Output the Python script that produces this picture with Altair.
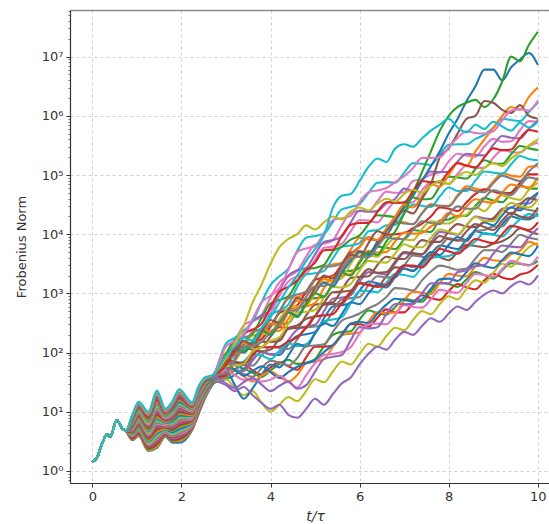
import altair as alt
import pandas as pd

# ---- shared start (all runs coincide), log10 of the norm ----
t_common = [0.0, 0.1, 0.25, 0.33, 0.4, 0.55, 0.67, 0.75]
log_common = [0.15, 0.22, 0.52, 0.62, 0.58, 0.86, 0.72, 0.68]

# ---- oscillating bundle, one column per time, one entry per run (log10) ----
t_bundle = [0.9, 1.04, 1.26, 1.45, 1.64, 1.8, 1.95, 2.24, 2.38, 2.53, 2.7]
b090 = [0.52,0.53,0.54,0.55,0.56,0.57,0.59,0.60,0.61,0.62,0.63,0.64,0.65,0.66,0.67,0.69,0.70,0.71,0.72,0.73,0.74,0.75,0.76,0.77,0.78,0.80,0.81,0.82,0.83,0.84,0.85,0.86,0.87,0.88,0.89,0.91,0.92,0.93,0.94,0.95]
b104 = [0.59,0.60,0.62,0.63,0.65,0.66,0.68,0.69,0.71,0.72,0.74,0.75,0.77,0.78,0.80,0.81,0.83,0.84,0.86,0.87,0.89,0.90,0.92,0.93,0.95,0.96,0.98,0.99,1.01,1.02,1.04,1.05,1.07,1.08,1.10,1.11,1.13,1.14,1.16,1.17]
b126 = [0.34,0.35,0.37,0.39,0.41,0.42,0.44,0.46,0.47,0.49,0.51,0.52,0.54,0.56,0.58,0.59,0.61,0.63,0.64,0.66,0.68,0.69,0.71,0.73,0.75,0.76,0.78,0.80,0.81,0.83,0.85,0.86,0.88,0.90,0.92,0.93,0.95,0.97,0.98,1.00]
b145 = [0.39,0.41,0.44,0.46,0.49,0.51,0.54,0.56,0.59,0.61,0.64,0.66,0.69,0.71,0.74,0.76,0.79,0.81,0.84,0.86,0.89,0.91,0.94,0.96,0.99,1.01,1.04,1.06,1.09,1.11,1.14,1.16,1.19,1.21,1.24,1.26,1.29,1.31,1.34,1.36]
b164 = [0.58,0.59,0.61,0.62,0.63,0.64,0.65,0.67,0.68,0.69,0.70,0.71,0.73,0.74,0.75,0.76,0.77,0.79,0.80,0.81,0.82,0.83,0.85,0.86,0.87,0.88,0.89,0.91,0.92,0.93,0.94,0.95,0.97,0.98,0.99,1.00,1.01,1.03,1.04,1.05]
b180 = [0.48,0.50,0.51,0.53,0.55,0.57,0.59,0.60,0.62,0.64,0.66,0.68,0.69,0.71,0.73,0.75,0.77,0.78,0.80,0.82,0.84,0.86,0.87,0.89,0.91,0.93,0.95,0.96,0.98,1.00,1.02,1.04,1.05,1.07,1.09,1.11,1.13,1.14,1.16,1.18]
b195 = [0.48,0.51,0.53,0.55,0.58,0.60,0.62,0.64,0.67,0.69,0.71,0.74,0.76,0.78,0.81,0.83,0.85,0.87,0.90,0.92,0.94,0.97,0.99,1.01,1.04,1.06,1.08,1.10,1.13,1.15,1.17,1.20,1.22,1.24,1.27,1.29,1.31,1.33,1.36,1.38]
b224 = [0.69,0.70,0.72,0.73,0.74,0.75,0.76,0.78,0.79,0.80,0.81,0.82,0.84,0.85,0.86,0.87,0.88,0.90,0.91,0.92,0.93,0.94,0.96,0.97,0.98,0.99,1.00,1.02,1.03,1.04,1.05,1.06,1.08,1.09,1.10,1.11,1.12,1.14,1.15,1.16]
b238 = [0.95,0.96,0.98,0.99,1.00,1.01,1.02,1.04,1.05,1.06,1.07,1.08,1.10,1.11,1.12,1.13,1.14,1.16,1.17,1.18,1.19,1.20,1.22,1.23,1.24,1.25,1.26,1.28,1.29,1.30,1.31,1.32,1.34,1.35,1.36,1.37,1.38,1.40,1.41,1.42]
b253 = [1.23,1.24,1.25,1.26,1.27,1.27,1.28,1.29,1.30,1.31,1.32,1.33,1.34,1.35,1.36,1.36,1.37,1.38,1.39,1.40,1.41,1.42,1.43,1.44,1.45,1.45,1.46,1.47,1.48,1.49,1.50,1.51,1.52,1.53,1.54,1.54,1.55,1.56,1.57,1.58]
b270 = [1.46,1.47,1.47,1.48,1.48,1.48,1.49,1.49,1.50,1.50,1.50,1.51,1.51,1.52,1.52,1.52,1.53,1.53,1.54,1.54,1.54,1.55,1.55,1.56,1.56,1.56,1.57,1.57,1.58,1.58,1.58,1.59,1.59,1.60,1.60,1.60,1.61,1.61,1.62,1.62]
bundle_cols = [b090, b104, b126, b145, b164, b180, b195, b224, b238, b253, b270]

# ---- diverging runs, log10 of the norm at each time ----
t_walk = [3.0, 3.2, 3.4, 3.6, 3.8, 4.0, 4.2, 4.4, 4.6, 4.8, 5.0, 5.2, 5.4, 5.6, 5.8, 6.0, 6.2, 6.4,
          6.6, 6.8, 7.0, 7.2, 7.4, 7.6, 7.8, 8.0, 8.2, 8.4, 8.6, 8.8, 9.0, 9.2, 9.4, 9.6, 9.8, 10.0]
w00 = [1.65,1.79,1.73,1.89,2.01,1.97,1.96,2.14,2.28,2.31,2.35,2.58,2.78,2.80,2.84,3.05,3.20,3.17,3.15,3.32,3.48,3.45,3.47,3.66,3.81,3.78,3.75,3.91,4.05,4.01,4.00,4.17,4.30,4.26,4.25,4.35]
w01 = [1.80,1.88,2.13,2.34,2.39,2.44,2.69,2.91,2.94,3.00,3.24,3.45,3.49,3.52,3.74,3.94,3.91,3.90,4.08,4.22,4.20,4.17,4.36,4.51,4.48,4.48,4.66,4.81,4.77,4.74,4.89,5.03,4.99,4.97,5.14,5.15]
w02 = [1.55,1.62,1.72,1.66,1.59,1.70,1.81,1.88,1.81,1.83,1.89,2.11,2.30,2.35,2.36,2.56,2.71,2.67,2.64,2.77,2.91,2.88,2.86,3.03,3.18,3.16,3.11,3.24,3.36,3.31,3.25,3.39,3.51,3.50,3.48,3.55]
w03 = [1.61,1.72,1.79,1.70,1.63,1.75,1.84,1.77,1.71,1.92,2.10,2.10,2.12,2.31,2.48,2.48,2.44,2.59,2.73,2.68,2.68,2.84,2.97,2.92,2.89,3.04,3.16,3.10,3.07,3.22,3.33,3.27,3.24,3.32,3.36,3.48]
w04 = [1.72,1.70,1.69,1.87,2.01,1.97,2.00,2.21,2.39,2.44,2.47,2.70,2.91,2.93,2.97,3.20,3.36,3.34,3.32,3.51,3.68,3.65,3.66,3.86,4.04,4.02,3.99,4.15,4.30,4.27,4.25,4.43,4.45,4.52,4.52,4.70]
w05 = [1.84,1.99,2.08,2.05,2.02,2.05,2.24,2.40,2.42,2.43,2.62,2.81,2.82,2.83,3.00,3.18,3.15,3.12,3.29,3.44,3.42,3.38,3.52,3.65,3.61,3.56,3.70,3.82,3.80,3.78,3.84,3.88,3.97,4.10,4.05,4.00]
w06 = [1.98,2.03,2.29,2.52,2.59,2.67,2.96,3.20,3.29,3.33,3.57,3.77,3.79,3.84,4.05,4.24,4.23,4.20,4.39,4.54,4.52,4.54,4.74,4.88,4.87,4.85,5.02,5.16,5.12,5.12,5.29,5.42,5.39,5.38,5.49,5.55]
w07 = [1.73,1.85,1.79,1.78,1.95,2.10,2.08,2.06,2.22,2.42,2.44,2.48,2.70,2.90,2.92,2.94,3.14,3.29,3.27,3.27,3.47,3.64,3.62,3.60,3.78,3.93,3.90,3.88,4.05,4.07,4.13,4.13,4.31,4.44,4.41,4.38]
w08 = [1.55,1.40,1.28,1.35,1.15,1.00,1.12,1.25,1.18,1.35,1.55,1.50,1.68,1.85,1.80,1.98,2.15,2.10,2.28,2.42,2.38,2.55,2.70,2.65,2.82,2.95,2.90,3.08,3.22,3.18,3.35,3.50,3.45,3.62,3.78,3.85]
w09 = [1.71,1.70,1.85,1.97,1.95,1.89,2.03,2.16,2.11,2.14,2.33,2.53,2.56,2.60,2.83,3.04,3.04,3.02,3.18,3.33,3.31,3.28,3.45,3.60,3.62,3.63,3.71,3.77,3.88,4.02,3.99,3.96,4.11,4.25,4.34,4.30]
w10 = [1.70,1.45,1.22,1.40,1.62,1.80,1.75,1.95,2.15,2.10,2.32,2.50,2.45,2.65,2.85,2.82,3.00,3.15,3.10,3.28,3.42,3.38,3.55,3.70,3.65,3.82,3.95,3.90,4.08,4.20,4.15,4.32,4.45,4.40,4.58,4.70]
w11 = [1.66,1.71,1.60,1.51,1.61,1.68,1.59,1.51,1.62,1.82,1.85,1.89,2.10,2.30,2.32,2.34,2.53,2.68,2.67,2.68,2.88,3.03,3.01,2.99,3.18,3.33,3.30,3.29,3.46,3.60,3.56,3.55,3.66,3.72,3.87,3.81]
w12 = [1.89,2.08,2.10,2.10,2.30,2.48,2.48,2.50,2.71,2.90,2.92,2.94,3.17,3.37,3.38,3.43,3.63,3.79,3.77,3.75,3.92,4.07,4.05,4.04,4.23,4.25,4.31,4.31,4.48,4.61,4.57,4.54,4.70,4.83,4.77,4.77]
w13 = [1.67,1.90,2.13,2.17,2.23,2.44,2.67,2.73,2.80,3.03,3.23,3.27,3.30,3.49,3.69,3.71,3.68,3.84,3.99,4.00,4.02,4.10,4.18,4.30,4.45,4.43,4.39,4.54,4.68,4.76,4.72,4.69,4.70,4.87,5.01,5.01]
w14 = [1.45,1.35,1.42,1.28,1.15,1.05,1.12,0.95,0.90,1.05,1.22,1.12,1.30,1.48,1.58,1.80,1.98,2.10,2.05,2.22,2.35,2.30,2.45,2.58,2.52,2.66,2.78,2.72,2.86,2.98,3.05,3.00,3.12,3.20,3.15,3.30]
w15 = [1.79,1.97,2.12,2.10,2.09,2.27,2.43,2.42,2.42,2.63,2.81,2.83,2.85,3.06,3.26,3.28,3.29,3.48,3.62,3.59,3.58,3.74,3.90,3.87,3.87,4.05,4.17,4.13,4.12,4.21,4.27,4.41,4.34,4.50,4.61,4.57]
w16 = [1.91,2.20,2.46,2.54,2.64,2.93,3.19,3.29,3.38,3.62,3.82,3.84,3.90,4.15,4.36,4.39,4.39,4.56,4.72,4.70,4.71,4.90,4.93,5.01,5.04,5.23,5.36,5.33,5.31,5.48,5.61,5.56,5.57,5.76,5.91,5.90]
w17 = [1.58,1.69,1.64,1.59,1.74,1.86,1.83,1.78,1.91,2.11,2.12,2.14,2.35,2.54,2.60,2.66,2.75,2.82,2.94,3.09,3.08,3.05,3.22,3.37,3.47,3.44,3.40,3.42,3.59,3.73,3.73,3.70,3.84,3.99,3.94,3.91]
w18 = [1.83,1.87,2.09,2.29,2.31,2.34,2.56,2.75,2.78,2.79,3.01,3.20,3.21,3.26,3.50,3.68,3.65,3.62,3.80,3.94,3.91,3.90,4.09,4.22,4.19,4.18,4.28,4.33,4.46,4.39,4.55,4.66,4.61,4.58,4.75,4.87]
w19 = [1.75,1.99,2.05,2.12,2.40,2.64,2.71,2.81,3.11,3.32,3.34,3.38,3.59,3.79,3.81,3.85,4.05,4.07,4.15,4.16,4.36,4.50,4.48,4.46,4.64,4.79,4.73,4.73,4.91,5.06,5.04,5.02,5.18,5.32,5.27,5.25]
w20 = [1.79,1.71,1.61,1.69,1.77,1.67,1.57,1.67,1.76,1.82,1.87,2.01,2.13,2.29,2.49,2.52,2.50,2.66,2.81,2.91,2.89,2.86,2.90,3.08,3.24,3.25,3.21,3.36,3.51,3.46,3.43,3.56,3.69,3.66,3.63,3.80]
w21 = [1.99,1.99,2.01,2.19,2.36,2.36,2.37,2.57,2.76,2.78,2.84,3.09,3.28,3.30,3.33,3.55,3.72,3.69,3.70,3.88,4.03,4.01,4.02,4.13,4.21,4.36,4.30,4.47,4.59,4.55,4.53,4.70,4.84,4.81,4.79,4.96]
w22 = [1.98,2.21,2.25,2.32,2.59,2.83,2.89,2.95,3.20,3.41,3.43,3.48,3.71,3.79,3.91,3.98,4.17,4.32,4.31,4.29,4.48,4.62,4.59,4.60,4.81,4.97,4.96,4.94,5.10,5.25,5.20,5.19,5.35,5.49,5.45,5.42]
w23 = [1.88,1.84,1.80,1.95,2.09,2.09,2.10,2.19,2.26,2.42,2.61,2.63,2.65,2.84,3.03,3.17,3.14,3.11,3.14,3.31,3.47,3.47,3.44,3.59,3.75,3.71,3.67,3.79,3.92,3.88,3.85,4.00,4.14,4.11,4.07,4.20]
w24 = [1.92,2.00,2.28,2.54,2.62,2.73,3.04,3.30,3.39,3.43,3.66,3.87,3.90,3.96,4.20,4.40,4.38,4.39,4.52,4.60,4.77,4.73,4.92,5.06,5.05,5.05,5.23,5.36,5.34,5.33,5.51,5.66,5.63,5.62,5.78,5.92]
w25 = [1.84,1.83,1.83,2.01,2.18,2.18,2.20,2.41,2.46,2.57,2.62,2.84,3.02,3.03,3.05,3.26,3.41,3.35,3.36,3.54,3.70,3.68,3.66,3.82,3.97,3.92,3.89,4.05,4.17,4.12,4.07,4.23,4.36,4.30,4.28,4.45]
w26 = [1.70,1.62,1.54,1.54,1.51,1.54,1.61,1.51,1.41,1.62,1.82,1.96,1.98,2.01,2.09,2.32,2.48,2.49,2.48,2.64,2.80,2.77,2.76,2.90,3.06,3.03,3.01,3.18,3.33,3.31,3.28,3.41,3.55,3.51,3.47,3.62]
w27 = [1.80,1.88,2.14,2.35,2.40,2.45,2.70,2.93,2.98,3.03,3.26,3.45,3.46,3.51,3.67,3.79,3.95,3.89,4.07,4.20,4.18,4.17,4.35,4.49,4.48,4.47,4.64,4.77,4.73,4.71,4.86,4.99,4.94,4.90,5.06,5.20]
w28 = [1.77,1.78,1.81,2.03,2.09,2.20,2.26,2.49,2.68,2.69,2.72,2.93,3.11,3.10,3.16,3.39,3.55,3.53,3.52,3.68,3.83,3.78,3.78,3.94,4.08,4.04,4.00,4.16,4.29,4.23,4.22,4.39,4.53,4.48,4.45,4.59]
w29 = [2.15,2.25,2.37,2.53,2.85,3.14,3.29,3.42,3.72,3.94,3.97,4.01,4.21,4.42,4.46,4.51,4.70,4.87,4.88,4.87,5.04,5.20,5.19,5.17,5.35,5.51,5.52,5.52,5.61,5.68,5.80,5.95,5.93,5.91,6.07,6.22]
w30 = [1.90,2.05,2.00,2.18,2.38,2.30,2.50,2.68,2.62,2.85,3.02,3.18,3.12,3.35,3.55,3.70,3.65,3.88,4.05,4.25,4.45,4.65,4.90,5.15,5.40,5.70,5.95,6.25,6.50,6.78,6.78,6.60,6.82,6.95,7.06,6.86]
w31 = [1.85,2.00,2.18,2.10,2.32,2.50,2.45,2.68,2.88,2.82,3.05,3.25,3.20,3.42,3.62,3.78,3.95,3.90,4.10,4.30,4.50,4.45,4.65,4.85,4.80,5.00,5.20,5.15,5.40,5.60,5.80,6.00,6.15,6.10,6.32,6.48]
w32 = [1.95,2.10,2.02,2.20,2.38,2.30,2.50,2.68,2.60,2.82,3.00,2.95,3.18,3.35,3.30,3.52,3.70,3.65,3.88,4.05,4.35,4.70,5.05,5.40,5.75,6.00,6.15,6.22,6.27,6.15,6.28,6.58,7.00,6.92,7.20,7.42]
w33 = [1.79,2.06,2.32,2.39,2.49,2.77,3.03,3.11,3.22,3.39,3.52,3.73,3.74,3.97,4.16,4.19,4.19,4.38,4.54,4.53,4.54,4.73,4.90,4.88,4.89,5.06,5.20,5.16,5.13,5.30,5.45,5.42,5.43,5.62,5.76,5.73]
w34 = [1.48,1.40,1.50,1.57,1.46,1.35,1.44,1.51,1.39,1.45,1.68,1.89,1.93,1.96,2.21,2.43,2.41,2.43,2.65,2.82,2.82,2.82,3.00,3.17,3.17,3.17,3.36,3.39,3.46,3.48,3.67,3.81,3.79,3.78,3.95,4.10]
w35 = [1.85,2.00,2.20,2.12,2.35,2.55,2.50,2.72,2.92,2.88,3.10,3.30,3.25,3.48,3.65,3.62,3.85,4.05,4.00,4.22,4.40,4.35,4.60,4.85,5.30,5.45,5.70,5.95,6.00,6.25,6.22,6.10,6.05,6.18,6.00,5.95]
w36 = [2.10,2.20,2.31,2.57,2.85,2.96,3.09,3.40,3.70,3.76,3.80,4.02,4.24,4.27,4.31,4.54,4.71,4.74,4.78,4.88,4.98,5.12,5.29,5.29,5.30,5.47,5.63,5.74,5.71,5.70,5.74,5.92,6.09,6.11,6.09,6.26]
w37 = [1.65,1.89,2.09,2.12,2.18,2.34,2.48,2.70,2.72,2.94,3.12,3.13,3.17,3.40,3.59,3.62,3.61,3.79,3.95,3.92,3.92,4.07,4.22,4.19,4.17,4.34,4.47,4.43,4.43,4.61,4.74,4.70,4.66,4.82,4.96,4.92]
w38 = [1.90,2.15,2.45,2.85,3.15,3.50,3.78,3.92,4.00,4.15,4.08,4.20,4.30,4.25,4.38,4.45,4.40,4.52,4.60,4.55,4.68,4.75,4.70,4.82,4.90,4.85,4.98,5.05,5.00,5.12,5.20,5.15,5.28,5.38,5.50,5.60]
w39 = [1.95,2.10,2.25,2.20,2.42,2.60,2.85,3.10,3.30,3.55,3.75,3.98,4.45,4.65,4.68,4.90,5.14,5.28,5.22,5.45,5.52,5.48,5.62,5.75,5.85,5.95,5.80,5.72,5.85,5.78,5.90,5.82,5.75,5.88,5.80,5.90]
walks = [w00, w01, w02, w03, w04, w05, w06, w07, w08, w09, w10, w11, w12, w13, w14, w15, w16, w17, w18, w19,
         w20, w21, w22, w23, w24, w25, w26, w27, w28, w29, w30, w31, w32, w33, w34, w35, w36, w37, w38, w39]

tab10 = ["#1f77b4", "#ff7f0e", "#2ca02c", "#d62728", "#9467bd",
         "#8c564b", "#e377c2", "#7f7f7f", "#bcbd22", "#17becf"]

# ---- tidy table ----
rows = []
names = []
for i, w in enumerate(walks):
    name = f"L{i:02d}"
    names.append(name)
    for t, v in zip(t_common, log_common):
        rows.append((name, t, 10 ** v))
    for t, col in zip(t_bundle, bundle_cols):
        rows.append((name, t, 10 ** col[i]))
    for t, v in zip(t_walk, w):
        rows.append((name, t, 10 ** v))
df = pd.DataFrame(rows, columns=["run", "t", "norm"])
colors = [tab10[i % 10] for i in range(len(names))]

# ---- axes ----
W, H = 479, 473
xscale = alt.Scale(domain=[-0.5, 10.25], nice=False, zero=False)
yscale = alt.Scale(type="log", domain=[0.627, 6.13e7], nice=False)

major = [1, 10, 100, 1000, 10000, 100000, 1000000, 10000000]
minor = []
for k in range(-1, 8):
    for m in range(2, 10):
        v = round(m * 10 ** k, 6)
        if 0.627 <= v <= 6.13e7:
            minor.append(v)
yvals = sorted(major + minor)
sup = "⁰¹²³⁴⁵⁶⁷"
label_expr = " : ".join(f"datum.value == {10 ** k} ? '10{sup[k]}'" for k in range(8)) + " : ''"
major_test = "indexof([1,10,100,1000,10000,100000,1000000,10000000], datum.value) >= 0"

grid_color = "#c4c4c4"
ink = "#333333"

yaxis = alt.Axis(
    values=yvals, labelExpr=label_expr, labelOverlap=False,
    tickSize={"condition": {"test": major_test, "value": 4}, "value": 2},
    tickWidth={"condition": {"test": major_test, "value": 1}, "value": 0.7},
    grid=True, gridColor=grid_color, gridDash=[3, 3], gridWidth=0.8,
    gridOpacity={"condition": {"test": major_test, "value": 1}, "value": 0},
    labelPadding=3, labelFontSize=13,
    title="Frobenius Norm", titleX=-49, titleY=H / 2, titleAngle=270,
    titleAlign="center", titleBaseline="middle", titleFontSize=13,
)
xaxis = alt.Axis(
    values=[0, 2, 4, 6, 8, 10], format="d", tickSize=4, labelPadding=3, labelFontSize=13,
    grid=True, gridColor=grid_color, gridDash=[3, 3], gridWidth=0.8,
    title="t/τ", titleFontStyle="italic", titleFontSize=14,
    titleX=245, titleY=33, titleAlign="center", titleBaseline="middle",
)

lines = alt.Chart(df).mark_line(strokeWidth=2.1, interpolate="monotone").encode(
    x=alt.X("t:Q", scale=xscale, axis=xaxis),
    y=alt.Y("norm:Q", scale=yscale, axis=yaxis),
    color=alt.Color("run:N", scale=alt.Scale(domain=names, range=colors), legend=None),
)

top_frame = alt.Chart(pd.DataFrame({"t": [0.0]})).mark_point(opacity=0).encode(
    x=alt.X("t:Q", scale=xscale,
            axis=alt.Axis(orient="top", labels=False, ticks=False, grid=False,
                          domain=True, domainColor="#8a8a8a", domainWidth=1.5, title="")),
)

chart = (
    alt.layer(lines, top_frame)
    .resolve_axis(x="independent")
    .properties(
        width=W, height=H,
        autosize=alt.AutoSizeParams(type="none"),
        padding={"left": 70, "top": 10, "right": 0, "bottom": 41},
        background="white",
    )
    .configure_view(strokeOpacity=0)
    .configure_axis(
        labelFont="DejaVu Sans", titleFont="DejaVu Sans", labelColor=ink, titleColor=ink,
        titleFontWeight="normal", domainColor=ink, tickColor=ink, domainWidth=1.2,
    )
)

chart.save("out.html", embed_options={"renderer": "svg", "actions": False})
